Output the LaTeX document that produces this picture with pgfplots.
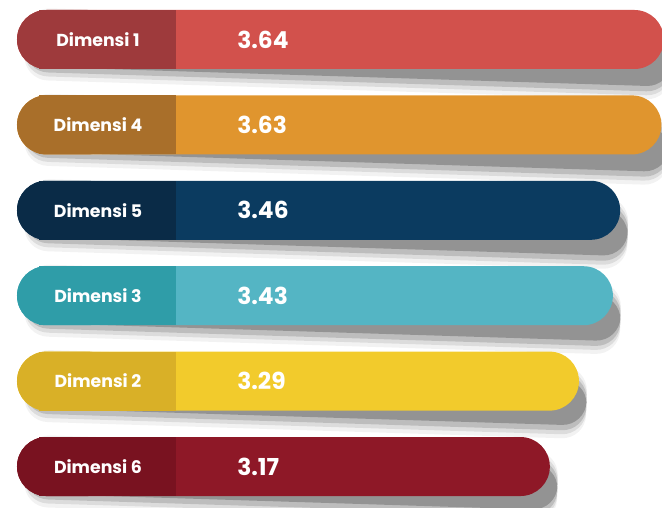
\documentclass[border=0pt]{standalone}
\usepackage{pgfplots}
\pgfplotsset{compat=1.18}
\usepackage{fontspec}
\setmainfont{Poppins}
\definecolor{lA}{HTML}{D2514C}\definecolor{dA}{HTML}{9E3A3C}
\definecolor{lB}{HTML}{E0952E}\definecolor{dB}{HTML}{A96F2A}
\definecolor{lC}{HTML}{0B3B60}\definecolor{dC}{HTML}{0A2B47}
\definecolor{lD}{HTML}{54B5C4}\definecolor{dD}{HTML}{2F9DA8}
\definecolor{lE}{HTML}{F2CB2C}\definecolor{dE}{HTML}{D9B027}
\definecolor{lF}{HTML}{8E1827}\definecolor{dF}{HTML}{791220}
\pgfplotsset{
  val/.style={x filter/.expression={x-0.9728}},
  pill/.style={fill=#1, draw=none, rounded corners=22pt, val},
  sh/.style n args={3}{fill=black, draw=none, fill opacity=#2, val, bar width=#1, rounded corners=18pt, rotate around={-1.8:(axis cs:0,#3)}, xshift=6pt, yshift=-3pt},
  darkround/.style={fill=#1, draw=none, rounded corners=22pt},
  darksq/.style={fill=#1, draw=none, sharp corners, xshift=16.5pt},
}
\newcommand\shad[2]{%
  \addplot[sh={54pt}{0.05}{#2}] coordinates {(#1,#2)};
  \addplot[sh={48pt}{0.09}{#2}] coordinates {(#1,#2)};
  \addplot[sh={42pt}{0.14}{#2}] coordinates {(#1,#2)};
  \addplot[sh={34pt}{0.22}{#2}] coordinates {(#1,#2)};
}
\tikzset{
  lab/.style={text=white, font=\bfseries\fontsize{13}{15}\selectfont, anchor=center},
  vl/.style={text=white, font=\bfseries\fontsize{17.5}{20}\selectfont, anchor=west, inner sep=0pt},
}
\begin{document}
\begin{tikzpicture}
\begin{axis}[
  width=496.5pt, height=380.25pt, scale only axis,
  hide axis, clip=true,
  xmin=-0.0701, xmax=2.6598,
  ymin=-0.4625, ymax=5.474, y dir=reverse,
  xbar, bar width=44.25pt, bar shift=0pt,
]
% shadows (same data, offset, layered)
\shad{3.64}{0}
\shad{3.63}{1}
\shad{3.46}{2}
\shad{3.43}{3}
\shad{3.29}{4}
\shad{3.17}{5}
% bars
\addplot[pill=lA] coordinates {(3.64,0)};
\addplot[pill=lB] coordinates {(3.63,1)};
\addplot[pill=lC] coordinates {(3.46,2)};
\addplot[pill=lD] coordinates {(3.43,3)};
\addplot[pill=lE] coordinates {(3.29,4)};
\addplot[pill=lF] coordinates {(3.17,5)};
% dark label sections
\addplot[darkround=dA] coordinates {(0.4124,0)};
\addplot[darkround=dB] coordinates {(0.4124,1)};
\addplot[darkround=dC] coordinates {(0.4124,2)};
\addplot[darkround=dD] coordinates {(0.4124,3)};
\addplot[darkround=dE] coordinates {(0.4124,4)};
\addplot[darkround=dF] coordinates {(0.4124,5)};
\addplot[darksq=dA] coordinates {(0.5649,0)};
\addplot[darksq=dB] coordinates {(0.5649,1)};
\addplot[darksq=dC] coordinates {(0.5649,2)};
\addplot[darksq=dD] coordinates {(0.5649,3)};
\addplot[darksq=dE] coordinates {(0.5649,4)};
\addplot[darksq=dF] coordinates {(0.5649,5)};
\node[lab] at (axis cs:0.334,0) {Dimensi 1};
\node[lab] at (axis cs:0.334,1) {Dimensi 4};
\node[lab] at (axis cs:0.334,2) {Dimensi 5};
\node[lab] at (axis cs:0.334,3) {Dimensi 3};
\node[lab] at (axis cs:0.334,4) {Dimensi 2};
\node[lab] at (axis cs:0.334,5) {Dimensi 6};
\node[vl] at (axis cs:0.9072,0) {3.64};
\node[vl] at (axis cs:0.9072,1) {3.63};
\node[vl] at (axis cs:0.9072,2) {3.46};
\node[vl] at (axis cs:0.9072,3) {3.43};
\node[vl] at (axis cs:0.9072,4) {3.29};
\node[vl] at (axis cs:0.9072,5) {3.17};
\end{axis}
\pgfresetboundingbox
\useasboundingbox (current axis.south west) rectangle (current axis.north east);
\end{tikzpicture}
\end{document}
